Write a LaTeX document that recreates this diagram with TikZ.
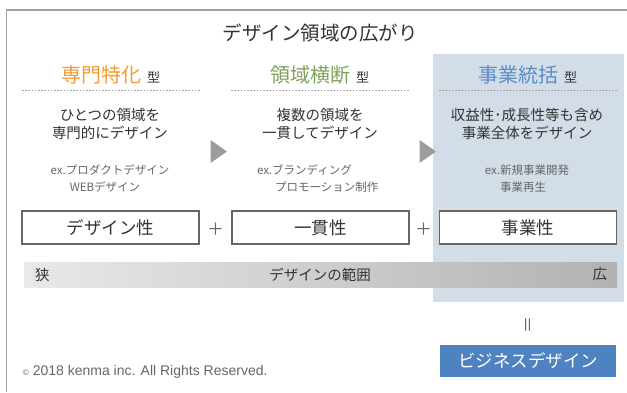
\documentclass[tikz,border=0pt]{standalone}
\usepackage{fontspec}
\setmainfont{Noto Sans CJK JP}
\newfontfamily\jpfont{Noto Sans CJK JP}
\newfontfamily\latfont{Liberation Sans}
\usetikzlibrary{shapes.geometric}
\definecolor{framegray}{HTML}{A0A0A0}
\definecolor{txt}{HTML}{333333}
\definecolor{subtxt}{HTML}{666666}
\definecolor{orangeh}{HTML}{F29B30}
\definecolor{greenh}{HTML}{7FA35B}
\definecolor{blueh}{HTML}{5A8CC8}
\definecolor{panel}{HTML}{D3DDE8}
\definecolor{btn}{HTML}{4F82C0}
\definecolor{barL}{HTML}{E8E9E9}
\definecolor{barR}{HTML}{B2B2B2}
\definecolor{tri}{HTML}{9C9C9C}
\begin{document}
\begin{tikzpicture}[x=1pt,y=-1pt,
  every node/.style={inner sep=0pt,outer sep=0pt,text=txt},
  titletext/.style={font=\jpfont\fontsize{19.5}{21}\selectfont},
  headtext/.style={font=\jpfont\fontsize{20}{22}\selectfont},
  typetext/.style={font=\jpfont\fontsize{13}{14}\selectfont,text=txt},
  bodytext/.style={font=\jpfont\fontsize{14.5}{18.5}\selectfont,align=center},
  extext/.style={font=\jpfont\fontsize{11.5}{13}\selectfont,text=subtxt},
  sepline/.style={draw=framegray,line width=0.9pt,dash pattern=on 1.6pt off 1.6pt},
  valbox/.style={draw=subtxt,line width=1.3pt,fill=white,minimum width=177pt,minimum height=33pt,font=\jpfont\fontsize{17.5}{20}\selectfont},
  plustext/.style={font=\jpfont\fontsize{17}{20}\selectfont,text=subtxt},
  bartext/.style={font=\jpfont\fontsize{14.5}{16}\selectfont},
  arrowtri/.style={isosceles triangle,isosceles triangle apex angle=70,fill=tri,minimum height=16pt,minimum width=23pt,inner sep=0pt}
]
\useasboundingbox (0,0) rectangle (627,392);
\fill[white] (0,0) rectangle (627,392);
% frame
\draw[framegray,line width=1.4pt] (6.7,392) -- (6.7,10) -- (627,10);
% blue panel
\fill[panel] (433,54) rectangle (624,302);
% title
\node[titletext] (title) at (320,33) {デザイン領域の広がり};
% headings
\node[headtext,text=orangeh,anchor=base east] (h1) at (141,82) {専門特化};
\node[typetext,anchor=base west] (t1) at (147,82) {型};
\node[headtext,text=greenh,anchor=base east] (h2) at (350,82) {領域横断};
\node[typetext,anchor=base west] (t2) at (356,82) {型};
\node[headtext,text=blueh,anchor=base east] (h3) at (558,82) {事業統括};
\node[typetext,anchor=base west] (t3) at (564,82) {型};
% dotted separators
\coordinate (s1a) at (22,90); \coordinate (s1b) at (200,90);
\coordinate (s2a) at (231,90); \coordinate (s2b) at (409,90);
\coordinate (s3a) at (439,90); \coordinate (s3b) at (617,90);
\draw[sepline] (s1a) -- (s1b);
\draw[sepline] (s2a) -- (s2b);
\draw[sepline] (s3a) -- (s3b);
% body
\node[bodytext] (b1) at (110,124) {ひとつの領域を\\専門的にデザイン};
\node[bodytext] (b2) at (320,124) {複数の領域を\\一貫してデザイン};
\node[bodytext] (b3) at (527,124) {収益性･成長性等も含め\\事業全体をデザイン};
% examples
\node[extext] (e1a) at (110,170) {ex.プロダクトデザイン};
\node[extext] (e1b) at (105,187) {WEBデザイン};
\node[extext,anchor=west] (e2a) at (257,170) {ex.ブランディング};
\node[extext,anchor=west] (e2b) at (275,187) {プロモーション制作};
\node[extext] (e3a) at (527,170) {ex.新規事業開発};
\node[extext] (e3b) at (523,187) {事業再生};
% triangles
\node[arrowtri] (tr1) at (216.5,151.5) {};
\node[arrowtri] (tr2) at (425.5,151.5) {};
% value boxes
\node[valbox] (v1) at (110.5,227.5) {デザイン性};
\node[plustext] (p1) at (215.5,229) {＋};
\node[valbox] (v2) at (320.5,227.5) {一貫性};
\node[plustext] (p2) at (423.5,229) {＋};
\node[valbox] (v3) at (528,227.5) {事業性};
% gradient bar
\shade[left color=barL,right color=barR] (24,262) rectangle (617,287);
\node[bartext,anchor=west] (narrow) at (35,274.5) {狭};
\node[bartext] (range) at (320,274.5) {デザインの範囲};
\node[bartext,anchor=east] (wide) at (607,274.5) {広};
% equals
\node[font=\jpfont\fontsize{17}{17}\selectfont,text=subtxt,rotate=90] (eq) at (529.5,324.5) {＝};
% button
\node[fill=btn,minimum width=176pt,minimum height=32pt,text=white,font=\jpfont\fontsize{17.5}{20}\selectfont] (bd) at (528,361) {ビジネスデザイン};
% copyright
\node[anchor=west,font=\latfont\fontsize{14}{16}\selectfont,text=subtxt] (copy) at (23,372) {{\fontsize{8}{8}\selectfont ©} 2018 kenma inc. All Rights Reserved.};
\end{tikzpicture}
\end{document}
